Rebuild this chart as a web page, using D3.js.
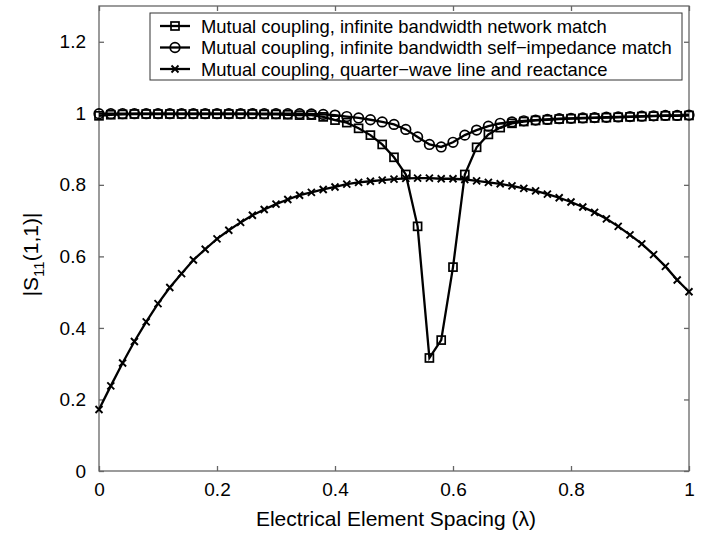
<!DOCTYPE html>
<html>
<head>
<meta charset="utf-8">
<script src="https://cdn.jsdelivr.net/npm/d3@7"></script>
<style>
  body { margin: 0; background: #fff; }
  svg { display: block; font-family: 'Liberation Sans', Arial, sans-serif; }
</style>
</head>
<body>
<div id="chart"></div>
<script>
// element spacing samples (wavelengths)
const spacing = [
  0.00, 0.02, 0.04, 0.06, 0.08, 0.10, 0.12, 0.14, 0.16, 0.18,
  0.20, 0.22, 0.24, 0.26, 0.28, 0.30, 0.32, 0.34, 0.36, 0.38,
  0.40, 0.42, 0.44, 0.46, 0.48, 0.50, 0.52, 0.54, 0.56, 0.58,
  0.60, 0.62, 0.64, 0.66, 0.68, 0.70, 0.72, 0.74, 0.76, 0.78,
  0.80, 0.82, 0.84, 0.86, 0.88, 0.90, 0.92, 0.94, 0.96, 0.98,
  1.00
];

const networkMatch = [
  0.993, 0.996, 0.997, 0.998, 0.998, 0.998, 0.998, 0.998, 0.998, 0.998,
  0.998, 0.998, 0.998, 0.998, 0.997, 0.997, 0.996, 0.995, 0.995, 0.990,
  0.981, 0.974, 0.958, 0.939, 0.913, 0.877, 0.829, 0.684, 0.316, 0.366,
  0.570, 0.829, 0.905, 0.941, 0.960, 0.972, 0.977, 0.980, 0.982, 0.984,
  0.985, 0.986, 0.987, 0.988, 0.989, 0.990, 0.991, 0.992, 0.993, 0.993,
  0.994
];

const selfMatch = [
  0.999, 0.999, 0.999, 0.999, 0.999, 0.999, 0.999, 0.999, 0.999, 0.999,
  0.999, 0.999, 0.999, 0.999, 0.999, 0.999, 0.999, 0.999, 0.998, 0.997,
  0.995, 0.991, 0.987, 0.982, 0.976, 0.969, 0.955, 0.934, 0.913, 0.906,
  0.919, 0.939, 0.953, 0.964, 0.972, 0.976, 0.979, 0.981, 0.983, 0.985,
  0.986, 0.987, 0.988, 0.989, 0.990, 0.991, 0.992, 0.993, 0.994, 0.994,
  0.995
];

const quarterWave = [
  0.172, 0.238, 0.302, 0.362, 0.417, 0.468, 0.513, 0.552, 0.590, 0.620,
  0.649, 0.673, 0.695, 0.715, 0.731, 0.746, 0.759, 0.771, 0.779, 0.787,
  0.794, 0.802, 0.807, 0.810, 0.813, 0.816, 0.818, 0.819, 0.819, 0.817,
  0.817, 0.815, 0.811, 0.807, 0.803, 0.797, 0.790, 0.783, 0.774, 0.764,
  0.752, 0.738, 0.723, 0.705, 0.684, 0.660, 0.635, 0.605, 0.572, 0.534,
  0.501
];

const seriesNames = [
  'Mutual coupling, infinite bandwidth network match',
  'Mutual coupling, infinite bandwidth self\u2212impedance match',
  'Mutual coupling, quarter\u2212wave line and reactance'
];
const seriesMarkers = ['square', 'circle', 'cross'];

const xTicks = [0, 0.2, 0.4, 0.6, 0.8, 1];
const yTicks = [0, 0.2, 0.4, 0.6, 0.8, 1, 1.2];

const width = 708
    , height = 533
    , margin = { top: 6, right: 19, bottom: 62, left: 99 }
    , axisColor = '#666'
    , tickLen = 5
    ;

const series = [networkMatch, selfMatch, quarterWave].map((vals, k) => ({
  name: seriesNames[k],
  marker: seriesMarkers[k],
  points: vals.map((v, i) => ({ x: spacing[i], y: v }))
}));

const svg = d3.select('#chart')
  .append('svg')
  .attr('width', width)
  .attr('height', height);

const x = d3.scaleLinear()
  .domain([0, 1])
  .range([margin.left, width - margin.right]);

const y = d3.scaleLinear()
  .domain([0, 1.3])
  .range([height - margin.bottom, margin.top]);

const fmt = d => d === 0 || d === 1 ? String(d) : d.toFixed(1);

// frame with inward ticks on all four sides
svg.append('rect')
  .attr('x', x(0))
  .attr('y', y(1.3))
  .attr('width', x(1) - x(0))
  .attr('height', y(0) - y(1.3))
  .attr('fill', 'none')
  .attr('stroke', axisColor)
  .attr('stroke-width', 1.3);

const gx = svg.append('g')
  .attr('transform', `translate(0,${y(0)})`)
  .call(d3.axisBottom(x).tickValues(xTicks).tickSize(-tickLen).tickPadding(9).tickFormat(fmt));
const gxTop = svg.append('g')
  .attr('transform', `translate(0,${y(1.3)})`)
  .call(d3.axisTop(x).tickValues(xTicks).tickSize(-tickLen).tickFormat(''));
const gy = svg.append('g')
  .attr('transform', `translate(${x(0)},0)`)
  .call(d3.axisLeft(y).tickValues(yTicks).tickSize(-tickLen).tickPadding(13).tickFormat(fmt));
const gyRight = svg.append('g')
  .attr('transform', `translate(${x(1)},0)`)
  .call(d3.axisRight(y).tickValues(yTicks).tickSize(-tickLen).tickFormat(''));

[gx, gxTop, gy, gyRight].forEach(g => {
  g.select('.domain').remove();
  g.selectAll('line').attr('stroke', axisColor).attr('stroke-width', 1.3);
  g.selectAll('text')
    .attr('fill', '#000')
    .style('font-size', '19px')
    .style('font-family', "'Liberation Sans', Arial, sans-serif");
});
gx.selectAll('text').attr('dy', '0.85em');

// axis titles
svg.append('text')
  .attr('x', (x(0) + x(1)) / 2 + 2)
  .attr('y', 526)
  .attr('text-anchor', 'middle')
  .style('font-size', '21px')
  .text('Electrical Element Spacing (\u03bb)');

const yTitle = svg.append('text')
  .attr('transform', `translate(38,${(y(0) + y(1.3)) / 2 + 16}) rotate(-90)`)
  .attr('text-anchor', 'middle')
  .style('font-size', '21px');
yTitle.append('tspan').text('|S');
yTitle.append('tspan').attr('dy', 6).style('font-size', '15px').text('11');
yTitle.append('tspan').attr('dy', -6).text('(1,1)|');

// markers
function drawMarker(g, kind) {
  if (kind === 'square') {
    g.append('rect')
      .attr('x', -4).attr('y', -4).attr('width', 8).attr('height', 8)
      .attr('fill', 'none').attr('stroke', '#000').attr('stroke-width', 1.7);
  } else if (kind === 'circle') {
    g.append('circle')
      .attr('r', 4.8)
      .attr('fill', 'none').attr('stroke', '#000').attr('stroke-width', 1.7);
  } else {
    g.append('path')
      .attr('d', 'M-3.5,-3.5L3.5,3.5M-3.5,3.5L3.5,-3.5')
      .attr('stroke', '#000').attr('stroke-width', 1.9);
  }
}

const line = d3.line()
  .x(d => x(d.x))
  .y(d => y(d.y));

const plot = svg.append('g');

// draw the quarter-wave first, then the two matching curves on top
[series[2], series[1], series[0]].forEach(s => {
  plot.append('path')
    .datum(s.points)
    .attr('d', line)
    .attr('fill', 'none')
    .attr('stroke', '#000')
    .attr('stroke-width', 2.3);

  plot.append('g')
    .selectAll('g')
    .data(s.points)
    .join('g')
      .attr('transform', d => `translate(${x(d.x)},${y(d.y)})`)
      .each(function() { drawMarker(d3.select(this), s.marker); });
});

// legend
const legend = svg.append('g')
  .attr('transform', 'translate(150,13)');

legend.append('rect')
  .attr('width', 532)
  .attr('height', 67)
  .attr('fill', '#fff')
  .attr('stroke', '#333')
  .attr('stroke-width', 1);

series.forEach((s, k) => {
  const row = legend.append('g')
    .attr('transform', `translate(0,${13 + k * 21.5})`);

  row.append('line')
    .attr('x1', 10).attr('x2', 40)
    .attr('stroke', '#000').attr('stroke-width', 2.3);
  drawMarker(row.append('g').attr('transform', 'translate(25,0)'), s.marker);

  row.append('text')
    .attr('x', 51)
    .attr('y', 6.5)
    .style('font-size', '18.4px')
    .text(s.name);
});
</script>
</body>
</html>
